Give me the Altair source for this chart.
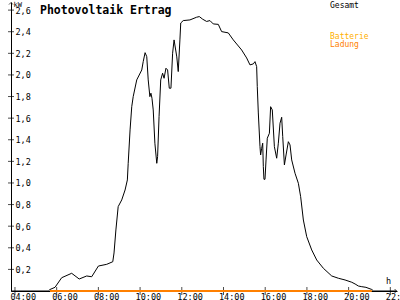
import altair as alt
import pandas as pd

# Gesamt (kW) over time of day (decimal hours)
hours = [3.81, 5.60, 5.68, 5.92, 6.24, 6.72, 7.08, 7.44, 7.68, 8.00, 8.40, 8.69, 8.75, 8.84,
         8.95, 9.12, 9.28, 9.39, 9.43, 9.52, 9.60, 9.67, 9.84, 10.08, 10.15, 10.24, 10.32,
         10.39, 10.47, 10.52, 10.57, 10.63, 10.71, 10.80, 10.84, 10.91, 10.99, 11.08, 11.15,
         11.24, 11.32, 11.40, 11.48, 11.56, 11.63, 11.76, 11.83, 11.91, 11.95, 12.07, 12.39,
         12.71, 12.84, 13.00, 13.19, 13.35, 13.51, 13.75, 13.91, 14.23, 14.47, 14.87, 15.11,
         15.27, 15.43, 15.51, 15.59, 15.62, 15.67, 15.75, 15.78, 15.83, 15.88, 15.91, 15.94,
         15.99, 16.04, 16.10, 16.20, 16.26, 16.34, 16.44, 16.55, 16.63, 16.71, 16.79, 16.84,
         16.92, 17.00, 17.11, 17.19, 17.27, 17.43, 17.59, 17.70, 17.83, 17.99, 18.23, 18.47,
         18.79, 19.19, 19.51, 19.83, 20.15, 20.31, 20.47, 20.63, 20.83, 21.11, 21.20, 22.30]
kw = [0.0, 0.0, 0.014, 0.034, 0.123, 0.164, 0.111, 0.139, 0.132, 0.231, 0.247, 0.271, 0.352, 0.565,
      0.781, 0.843, 0.935, 1.028, 1.182, 1.491, 1.706, 1.799, 1.954, 2.046, 2.123, 2.206, 2.169,
      1.954, 1.799, 1.831, 1.784, 1.676, 1.368, 1.182, 1.244, 1.614, 1.954, 2.016, 1.969,
      2.062, 2.046, 1.877, 1.877, 2.201, 2.324, 2.167, 2.031, 2.324, 2.481, 2.503, 2.509,
      2.534, 2.540, 2.516, 2.495, 2.503, 2.472, 2.468, 2.401, 2.389, 2.324, 2.231, 2.157,
      2.093, 2.102, 2.123, 2.077, 1.892, 1.648, 1.336, 1.259, 1.321, 1.368, 1.151, 1.034,
      1.034, 1.213, 1.414, 1.460, 1.706, 1.676, 1.336, 1.229, 1.368, 1.553, 1.608, 1.429,
      1.167, 1.259, 1.382, 1.352, 1.213, 1.090, 0.997, 0.873, 0.657, 0.503, 0.380, 0.287,
      0.210, 0.139, 0.118, 0.102, 0.081, 0.065, 0.046, 0.040, 0.034, 0.014, 0.0, 0.0]

# Batterie Ladung (kW)
lade_hours = [5.68, 21.11]
lade_kw = [0.0, 0.0]

x_ticks = [4, 6, 8, 10, 12, 14, 16, 18, 20, 22]
y_ticks = [0.2, 0.4, 0.6, 0.8, 1.0, 1.2, 1.4, 1.6, 1.8, 2.0, 2.2, 2.4, 2.6]

title_text = "Photovoltaik Ertrag"
legend_total = "Gesamt"
legend_batt = ["Batterie", "Ladung"]
unit_y = "kW"
unit_x = "h"

FONT = "DejaVu Sans Mono"
XDOM = [3.81, 22.32]
YDOM = [0, 2.675]
W, H = 386, 289

xs = alt.Scale(domain=XDOM, nice=False, zero=False)
ys = alt.Scale(domain=YDOM, nice=False, zero=False)

df = pd.DataFrame({"h": hours, "kw": kw})
dl = pd.DataFrame({"h": lade_hours, "kw": lade_kw})
dxt = pd.DataFrame({"h": x_ticks, "kw": [0] * len(x_ticks)})
dyt = pd.DataFrame({"h": [XDOM[0]] * len(y_ticks), "kw": y_ticks})

x_axis = alt.Axis(values=x_ticks, ticks=False, grid=False, domainColor="black", domainWidth=1,
                  labelExpr="(datum.value < 10 ? '0' : '') + datum.value + ':00'",
                  labelFont=FONT, labelFontSize=8.5, labelColor="black", labelAlign="left",
                  labelOffset=-5, labelPadding=1, labelBaseline="top", title=None,
                  labelOverlap=False, labelFlush=False, labelBound=False)
y_axis = alt.Axis(values=y_ticks, ticks=False, grid=False, domainColor="black", domainWidth=1,
                  labelExpr="replace(format(datum.value, '.1f'), '.', ',')",
                  labelFont=FONT, labelFontSize=8.5, labelColor="black", labelAlign="left",
                  labelPadding=-4, labelBaseline="middle", title=None,
                  labelOverlap=False, labelFlush=False, labelBound=False)

X = alt.X("h:Q", scale=xs, axis=x_axis)
Y = alt.Y("kw:Q", scale=ys, axis=y_axis)

base_line = alt.Chart(df).mark_line(color="black", strokeWidth=1, interpolate="linear").encode(
    x=X, y=Y
)

lade_line = alt.Chart(dl).mark_line(color="#FF8000", strokeWidth=2).encode(x=X, y=Y)

xt = alt.Chart(dxt).mark_tick(color="black", orient="vertical", size=8, thickness=1).encode(
    x=X, y=Y
)
yt = alt.Chart(dyt).mark_tick(color="black", orient="horizontal", size=6, thickness=1).encode(
    x=X, y=Y
)

def txt(s, x, y, size, color="black", weight="normal"):
    return alt.Chart(pd.DataFrame({"t": [s]})).mark_text(
        font=FONT, fontSize=size, color=color, fontWeight=weight, align="left",
        baseline="alphabetic"
    ).encode(text="t:N", x=alt.value(x), y=alt.value(y))

texts = [
    txt(title_text, 29, 11.5, 11.5, weight="bold"),
    txt(legend_total, 319, 6, 8),
    txt(legend_batt[0], 319, 37, 8, color="#FFB000"),
    txt(legend_batt[1], 319, 45, 8, color="#FF8000"),
    txt(unit_y, 2.5, 4.5, 7),
    txt(unit_x, 375, 282, 8.5),
]

arrow_r = alt.Chart(pd.DataFrame({"h": [XDOM[1] - 0.02], "kw": [0.0]})).mark_point(
    shape="M-1,-1L0,0L-1,1", filled=False, stroke="black", strokeWidth=1, size=16
).encode(x=X, y=Y)

arrow_u = alt.Chart(pd.DataFrame({"h": [XDOM[0]], "kw": [YDOM[1] - 0.005]})).mark_point(
    shape="M-1,1L0,0L1,1", filled=False, stroke="black", strokeWidth=1, size=16
).encode(x=X, y=Y)

chart = alt.layer(base_line, xt, yt, lade_line, arrow_r, arrow_u, *texts).properties(
    width=W, height=H,
    autosize=alt.AutoSizeParams(type="none"),
    padding={"left": 11, "top": 2, "right": 3, "bottom": 9},
    background="white",
).configure_view(stroke=None)

chart.save("out.html", embed_options={"renderer": "svg", "actions": False})
